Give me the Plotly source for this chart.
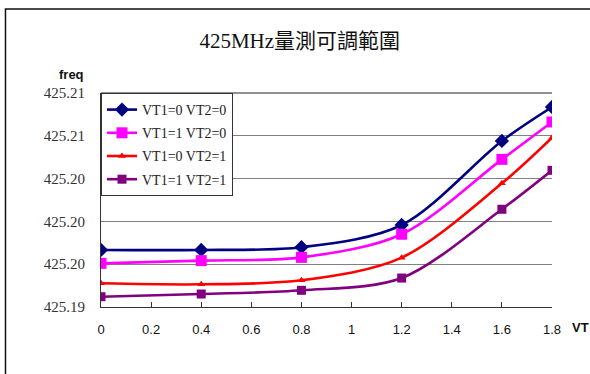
import plotly.graph_objects as go

vt = [0, 0.4, 0.8, 1.2, 1.6, 1.8]
s_00 = [425.19700, 425.19700, 425.19719, 425.19875, 425.20464, 425.20702]
s_10 = [425.19606, 425.19625, 425.19648, 425.19810, 425.20335, 425.20597]
s_01 = [425.19466, 425.19459, 425.19487, 425.19646, 425.20167, 425.20487]
s_11 = [425.19372, 425.19391, 425.19417, 425.19503, 425.19985, 425.20258]
names = ["VT1=0 VT2=0", "VT1=1 VT2=0", "VT1=0 VT2=1", "VT1=1 VT2=1"]

y_tickvals = [425.193, 425.196, 425.199, 425.202, 425.205, 425.208]
y_ticktext = ["425.19", "425.20", "425.20", "425.20", "425.21", "425.21"]
x_tickvals = [0, 0.2, 0.4, 0.6, 0.8, 1.0, 1.2, 1.4, 1.6, 1.8]
x_ticktext = ["0", "0.2", "0.4", "0.6", "0.8", "1", "1.2", "1.4", "1.6", "1.8"]

styles = [
    dict(color="#000080", symbol="diamond", size=11),
    dict(color="#FF00FF", symbol="square", size=11),
    dict(color="#FF0000", symbol="triangle-up", size=7),
    dict(color="#800080", symbol="square", size=9),
]

fig = go.Figure()
for i, (name, ys, st) in enumerate(zip(names, [s_00, s_10, s_01, s_11], styles)):
    fig.add_trace(go.Scatter(
        x=vt, y=ys, name=name, mode="lines+markers", legendgroup=f"g{i}",
        line=dict(color=st["color"], width=2.6, shape="spline", smoothing=0.9),
        marker=dict(color=st["color"], symbol=st["symbol"], size=st["size"]),
    ))

fig.update_layout(
    width=590, height=374,
    margin=dict(l=101, r=38, t=93, b=67),
    paper_bgcolor="white", plot_bgcolor="white",
    title=dict(text="425MHz量測可調範圍", x=0.508, xanchor="center", y=0.89, yanchor="middle",
               font=dict(family="Liberation Serif, Noto Sans CJK TC", size=21, color="#111")),
    legend=dict(x=0, y=1, xanchor="left", yanchor="top", bgcolor="white",
                bordercolor="#333", borderwidth=1, itemwidth=30,
                font=dict(family="Liberation Serif", size=14, color="#222"),
                tracegroupgap=2),
    xaxis=dict(range=[0, 1.8], tickvals=x_tickvals, ticktext=x_ticktext,
               showgrid=False, zeroline=False, showline=True, linecolor="#333", linewidth=1,
               ticks="inside", ticklen=5, tickcolor="#333", ticklabelstandoff=10,
               tickfont=dict(family="Liberation Sans", size=13, color="#111")),
    yaxis=dict(range=[425.193, 425.208], tickvals=y_tickvals, ticktext=y_ticktext,
               showgrid=True, gridcolor="#808080", gridwidth=1, zeroline=False,
               showline=True, linecolor="#333", linewidth=1, ticks="",
               ticklabelstandoff=12,
               tickfont=dict(family="Liberation Serif", size=15, color="#333")),
    showlegend=True,
    annotations=[
        dict(text="<b>freq</b>", x=-0.033, y=1.085, xref="paper", yref="paper",
             xanchor="right", yanchor="middle", showarrow=False,
             font=dict(family="Liberation Sans", size=13, color="#111")),
        dict(text="<b>VT</b>", x=1.04, y=-0.095, xref="paper", yref="paper",
             xanchor="left", yanchor="middle", showarrow=False,
             font=dict(family="Liberation Sans", size=13, color="#111")),
    ],
    shapes=[
        dict(type="line", xref="paper", yref="paper", x0=0, x1=1, y0=1, y1=1,
             line=dict(color="#222", width=1.2)),
        dict(type="rect", xref="paper", yref="paper", x0=-0.2118, x1=1.3, y0=-0.5, y1=1.3925,
             line=dict(color="#111", width=1.5), fillcolor="rgba(0,0,0,0)", layer="below"),
    ],
)

fig.write_html("out.html", config={"displayModeBar": False},
               post_script="document.body.style.margin='0px';document.body.style.overflow='hidden';")
